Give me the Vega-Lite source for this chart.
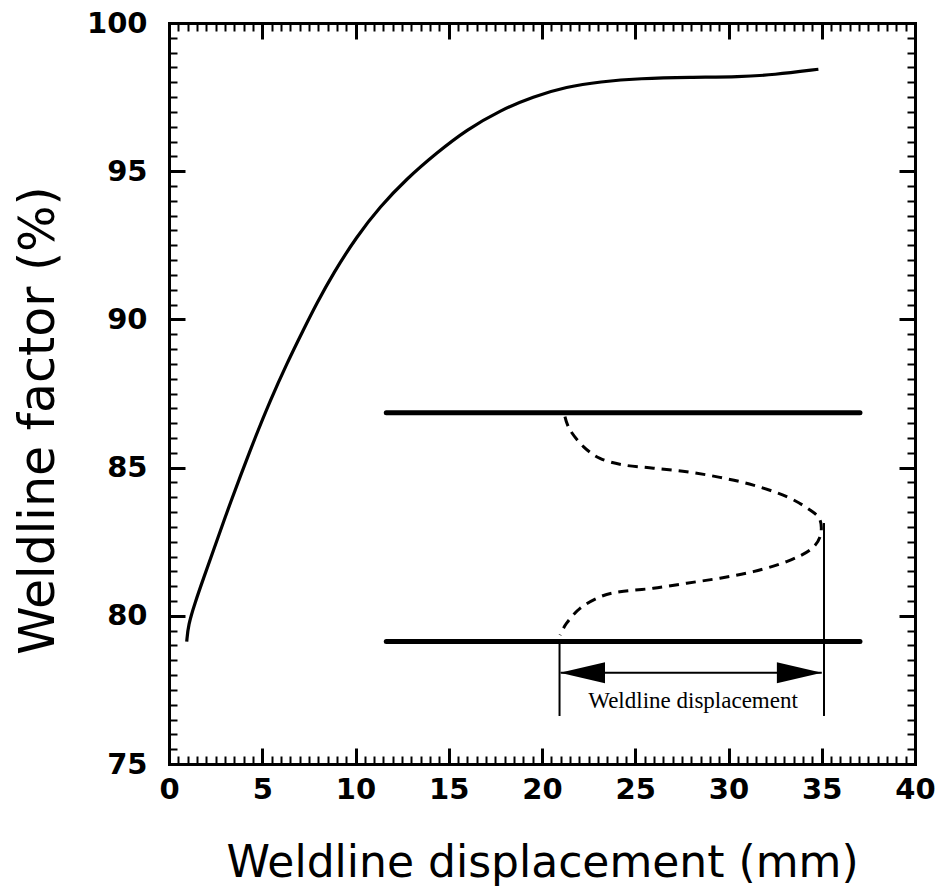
{
  "$schema": "https://vega.github.io/schema/vega-lite/v6.json",
  "width": 746,
  "height": 741,
  "autosize": "none",
  "padding": {"left": 169, "top": 23, "right": 25, "bottom": 128},
  "background": "white",
  "config": {
    "view": {"stroke": null},
    "axis": {"grid": false, "domainColor": "black", "tickColor": "black", "labelColor": "black", "titleColor": "black", "labelFont": "DejaVu Sans", "titleFont": "DejaVu Sans", "labelFlush": false, "labelOverlap": false, "domainCap": "square", "tickCap": "butt"}
  },
  "datasets": {
    "curve": [
      {"x": 0.95, "y": 79.13}, {"x": 1.03, "y": 79.69}, {"x": 1.39, "y": 80.43}, {"x": 1.84, "y": 81.25},
      {"x": 2.38, "y": 82.2}, {"x": 3.09, "y": 83.47}, {"x": 3.81, "y": 84.69}, {"x": 4.61, "y": 86.0},
      {"x": 5.42, "y": 87.25}, {"x": 6.31, "y": 88.5}, {"x": 7.2, "y": 89.64}, {"x": 7.92, "y": 90.54},
      {"x": 8.81, "y": 91.56}, {"x": 10.06, "y": 92.79}, {"x": 11.31, "y": 93.8}, {"x": 12.75, "y": 94.75},
      {"x": 14.35, "y": 95.62}, {"x": 15.96, "y": 96.4}, {"x": 17.75, "y": 97.05}, {"x": 19.53, "y": 97.52},
      {"x": 21.32, "y": 97.85}, {"x": 23.11, "y": 98.02}, {"x": 25.25, "y": 98.13}, {"x": 27.94, "y": 98.17},
      {"x": 30.62, "y": 98.18}, {"x": 32.4, "y": 98.25}, {"x": 34.82, "y": 98.44}
    ],
    "walls": [
      {"x1": 11.65, "x2": 37.05, "y": 86.85},
      {"x1": 11.65, "x2": 37.05, "y": 79.13}
    ],
    "front": [
      {"o": 1, "x": 21.23, "y": 86.72}, {"o": 2, "x": 21.5, "y": 86.27}, {"o": 3, "x": 22.22, "y": 85.71},
      {"o": 4, "x": 23.11, "y": 85.31}, {"o": 5, "x": 24.36, "y": 85.09}, {"o": 6, "x": 25.97, "y": 84.98},
      {"o": 7, "x": 27.76, "y": 84.86}, {"o": 8, "x": 29.54, "y": 84.67}, {"o": 9, "x": 31.33, "y": 84.41},
      {"o": 10, "x": 33.12, "y": 84.02}, {"o": 11, "x": 34.37, "y": 83.57}, {"o": 12, "x": 34.91, "y": 83.23},
      {"o": 13, "x": 34.91, "y": 82.67}, {"o": 14, "x": 34.37, "y": 82.22}, {"o": 15, "x": 33.12, "y": 81.83},
      {"o": 16, "x": 31.33, "y": 81.49}, {"o": 17, "x": 29.54, "y": 81.27}, {"o": 18, "x": 27.76, "y": 81.1},
      {"o": 19, "x": 25.97, "y": 80.93}, {"o": 20, "x": 24.18, "y": 80.81}, {"o": 21, "x": 23.11, "y": 80.64},
      {"o": 22, "x": 22.04, "y": 80.25}, {"o": 23, "x": 21.32, "y": 79.75}, {"o": 24, "x": 20.97, "y": 79.35}
    ],
    "verticals": [
      {"x": 20.94, "y1": 79.2, "y2": 76.62},
      {"x": 35.12, "y1": 83.13, "y2": 76.62}
    ],
    "shaft": [{"x1": 21.0, "x2": 35.0, "y": 78.08}],
    "heads": [
      {"x": 22.17, "y": 78.08, "dir": "left"},
      {"x": 33.8, "y": 78.08, "dir": "right"}
    ],
    "label": [{"x": 28.1, "y": 76.89, "text": "Weldline displacement"}]
  },
  "resolve": {"axis": {"x": "independent", "y": "independent"}},
  "layer": [
    {
      "data": {"name": "walls"},
      "mark": {"type": "rule", "strokeWidth": 5, "color": "black", "strokeCap": "round"},
      "encoding": {
        "x": {"field": "x1", "type": "quantitative", "scale": {"domain": [0, 40], "nice": false, "zero": false},
          "axis": {"orient": "bottom", "values": [0, 5, 10, 15, 20, 25, 30, 35, 40], "tickSize": -16, "tickWidth": 3, "domainWidth": 3, "labelFontSize": 29, "labelFontWeight": "bold", "labelPadding": 27, "title": "Weldline displacement (mm)", "titleFontSize": 44, "titleFontWeight": 500, "titleY": 112, "titleBaseline": "alphabetic"}},
        "x2": {"field": "x2"},
        "y": {"field": "y", "type": "quantitative", "scale": {"domain": [75, 100], "nice": false, "zero": false},
          "axis": {"orient": "left", "values": [75, 80, 85, 90, 95, 100], "tickSize": -16, "tickWidth": 3, "domainWidth": 3, "labelFontSize": 29, "labelFontWeight": "bold", "labelPadding": 38, "title": "Weldline factor (%)", "titleFontSize": 49, "titleFontWeight": 500, "titleX": -116, "titleY": 397, "titleBaseline": "alphabetic"}}
      }
    },
    {
      "data": {"name": "front"},
      "mark": {"type": "line", "interpolate": "cardinal", "strokeDash": [10, 7], "strokeWidth": 3, "color": "black"},
      "encoding": {
        "x": {"field": "x", "type": "quantitative",
          "axis": {"orient": "bottom", "values": [0.5,1,1.5,2,2.5,3,3.5,4,4.5,5.5,6,6.5,7,7.5,8,8.5,9,9.5,10.5,11,11.5,12,12.5,13,13.5,14,14.5,15.5,16,16.5,17,17.5,18,18.5,19,19.5,20.5,21,21.5,22,22.5,23,23.5,24,24.5,25.5,26,26.5,27,27.5,28,28.5,29,29.5,30.5,31,31.5,32,32.5,33,33.5,34,34.5,35.5,36,36.5,37,37.5,38,38.5,39,39.5], "tickSize": -8, "tickWidth": 2, "domain": false, "labels": false, "title": null}},
        "y": {"field": "y", "type": "quantitative",
          "axis": {"orient": "left", "values": [75.5,76,76.5,77,77.5,78,78.5,79,79.5,80.5,81,81.5,82,82.5,83,83.5,84,84.5,85.5,86,86.5,87,87.5,88,88.5,89,89.5,90.5,91,91.5,92,92.5,93,93.5,94,94.5,95.5,96,96.5,97,97.5,98,98.5,99,99.5], "tickSize": -8, "tickWidth": 2, "domain": false, "labels": false, "title": null}},
        "order": {"field": "o", "type": "quantitative"}
      }
    },
    {
      "data": {"name": "verticals"},
      "mark": {"type": "rule", "strokeWidth": 2, "color": "black"},
      "encoding": {
        "x": {"field": "x", "type": "quantitative",
          "axis": {"orient": "top", "values": [0, 5, 10, 15, 20, 25, 30, 35, 40], "tickSize": -16, "tickWidth": 3, "domainWidth": 3, "labels": false, "title": null}},
        "y": {"field": "y1", "type": "quantitative",
          "axis": {"orient": "right", "values": [75, 80, 85, 90, 95, 100], "tickSize": -16, "tickWidth": 3, "domainWidth": 3, "labels": false, "title": null}},
        "y2": {"field": "y2"}
      }
    },
    {
      "data": {"name": "shaft"},
      "mark": {"type": "rule", "strokeWidth": 2, "color": "black"},
      "encoding": {
        "x": {"field": "x1", "type": "quantitative",
          "axis": {"orient": "top", "values": [0.5,1,1.5,2,2.5,3,3.5,4,4.5,5.5,6,6.5,7,7.5,8,8.5,9,9.5,10.5,11,11.5,12,12.5,13,13.5,14,14.5,15.5,16,16.5,17,17.5,18,18.5,19,19.5,20.5,21,21.5,22,22.5,23,23.5,24,24.5,25.5,26,26.5,27,27.5,28,28.5,29,29.5,30.5,31,31.5,32,32.5,33,33.5,34,34.5,35.5,36,36.5,37,37.5,38,38.5,39,39.5], "tickSize": -8, "tickWidth": 2, "domain": false, "labels": false, "title": null}},
        "x2": {"field": "x2"},
        "y": {"field": "y", "type": "quantitative",
          "axis": {"orient": "right", "values": [75.5,76,76.5,77,77.5,78,78.5,79,79.5,80.5,81,81.5,82,82.5,83,83.5,84,84.5,85.5,86,86.5,87,87.5,88,88.5,89,89.5,90.5,91,91.5,92,92.5,93,93.5,94,94.5,95.5,96,96.5,97,97.5,98,98.5,99,99.5], "tickSize": -8, "tickWidth": 2, "domain": false, "labels": false, "title": null}}
      }
    },
    {
      "data": {"name": "heads"},
      "mark": {"type": "point", "filled": true, "color": "black", "opacity": 1, "size": 2025, "strokeWidth": 0},
      "encoding": {
        "x": {"field": "x", "type": "quantitative", "axis": null},
        "y": {"field": "y", "type": "quantitative", "axis": null},
        "shape": {"field": "dir", "type": "nominal", "legend": null,
          "scale": {"domain": ["left", "right"], "range": ["M -1 0 L 1 -0.47 L 1 0.47 Z", "M 1 0 L -1 -0.47 L -1 0.47 Z"]}}
      }
    },
    {
      "data": {"name": "label"},
      "mark": {"type": "text", "font": "Liberation Serif", "fontSize": 23, "align": "center", "baseline": "alphabetic", "color": "black"},
      "encoding": {
        "x": {"field": "x", "type": "quantitative", "axis": null},
        "y": {"field": "y", "type": "quantitative", "axis": null},
        "text": {"field": "text"}
      }
    },
    {
      "data": {"name": "curve"},
      "mark": {"type": "line", "interpolate": "basis", "strokeWidth": 3.2, "color": "black"},
      "encoding": {
        "x": {"field": "x", "type": "quantitative", "axis": null},
        "y": {"field": "y", "type": "quantitative", "axis": null}
      }
    }
  ]
}
